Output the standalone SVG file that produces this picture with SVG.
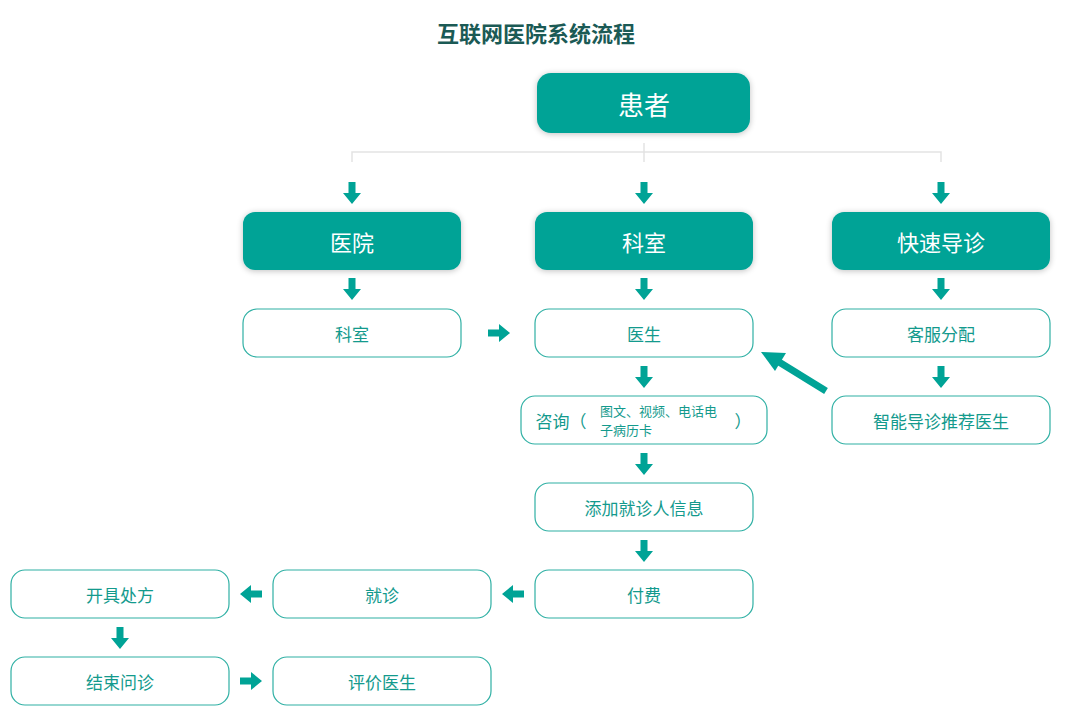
<svg xmlns="http://www.w3.org/2000/svg" xmlns:xlink="http://www.w3.org/1999/xlink" width="1067" height="717" viewBox="0 0 1067 717">
<style>
text{font-family:"Noto Sans CJK SC","Noto Sans",sans-serif;text-anchor:middle;dominant-baseline:central}
.f{fill:#00a396}
.ft{fill:#fff;font-size:22px}
.o{fill:#fff;stroke:#2fb0a4;stroke-width:1.2}
.ot{fill:#139a8d;font-size:17px}
.a{fill:#00a396}
</style>
<defs>
<filter id="sh" x="-10%" y="-20%" width="120%" height="140%"><feGaussianBlur in="SourceAlpha" stdDeviation="3"/><feOffset dy="1"/><feComponentTransfer><feFuncA type="linear" slope="0.25"/></feComponentTransfer><feMerge><feMergeNode/><feMergeNode in="SourceGraphic"/></feMerge></filter>
<path id="ar" d="M-3.5,0 H3.5 V11 H9 L0,22 L-9,11 H-3.5 Z"/>
</defs>
<text x="536" y="32" style="font-size:22px;font-weight:bold;fill:#1b5a55">互联网医院系统流程</text>
<g id="connectors">
<path d="M352,162 V152 H941 V162 M644,143 V162" fill="none" stroke="#e3e3e3" stroke-width="1.5"/>
<use href="#ar" class="a" transform="translate(352,182)"/>
<use href="#ar" class="a" transform="translate(644,182)"/>
<use href="#ar" class="a" transform="translate(941,182)"/>
<use href="#ar" class="a" transform="translate(352,278)"/>
<use href="#ar" class="a" transform="translate(644,278)"/>
<use href="#ar" class="a" transform="translate(941,278)"/>
<use href="#ar" class="a" transform="translate(644,366)"/>
<use href="#ar" class="a" transform="translate(941,366)"/>
<use href="#ar" class="a" transform="translate(644,453)"/>
<use href="#ar" class="a" transform="translate(644,540)"/>
<use href="#ar" class="a" transform="translate(120,627)"/>
<use href="#ar" class="a" transform="translate(488,333) rotate(-90)"/>
<use href="#ar" class="a" transform="translate(240,681) rotate(-90)"/>
<use href="#ar" class="a" transform="translate(524,594) rotate(90)"/>
<use href="#ar" class="a" transform="translate(262,594) rotate(90)"/>
<path d="M826,391 L779,362" stroke="#00a396" stroke-width="7"/>
<path d="M761,352 L786,353 L775,371 Z" fill="#00a396"/>
</g>
<g id="patient"><rect x="537" y="73" width="213" height="60" rx="14" class="f" filter="url(#sh)"/><text x="644" y="103" class="ft" style="font-size:26px">患者</text></g>
<g id="hospital"><rect x="243" y="212" width="218" height="58" rx="12" class="f" filter="url(#sh)"/><text x="352" y="241" class="ft">医院</text></g>
<g id="dept"><rect x="535" y="212" width="218" height="58" rx="12" class="f" filter="url(#sh)"/><text x="644" y="241" class="ft">科室</text></g>
<g id="fast"><rect x="832" y="212" width="218" height="58" rx="12" class="f" filter="url(#sh)"/><text x="941" y="241" class="ft">快速导诊</text></g>
<g id="dept2"><rect x="243" y="309" width="218" height="48" rx="14" class="o"/><text x="352" y="333" class="ot">科室</text></g>
<g id="doctor"><rect x="535" y="309" width="218" height="48" rx="14" class="o"/><text x="644" y="333" class="ot">医生</text></g>
<g id="service"><rect x="832" y="309" width="218" height="48" rx="14" class="o"/><text x="941" y="333" class="ot">客服分配</text></g>
<g id="consult"><rect x="521" y="396" width="246" height="48" rx="14" class="o"/><text x="561" y="420" class="ot">咨询（</text><text x="600" y="410" class="ot" style="font-size:13px;text-anchor:start">图文、视频、电话电</text><text x="600" y="429" class="ot" style="font-size:13px;text-anchor:start">子病历卡</text><text x="743" y="420" class="ot">）</text></g>
<g id="smart"><rect x="832" y="396" width="218" height="48" rx="14" class="o"/><text x="941" y="420" class="ot">智能导诊推荐医生</text></g>
<g id="addinfo"><rect x="535" y="483" width="218" height="48" rx="14" class="o"/><text x="644" y="507" class="ot">添加就诊人信息</text></g>
<g id="pay"><rect x="535" y="570" width="218" height="48" rx="14" class="o"/><text x="644" y="594" class="ot">付费</text></g>
<g id="visit"><rect x="273" y="570" width="218" height="48" rx="14" class="o"/><text x="382" y="594" class="ot">就诊</text></g>
<g id="rx"><rect x="11" y="570" width="218" height="48" rx="14" class="o"/><text x="120" y="594" class="ot">开具处方</text></g>
<g id="end"><rect x="11" y="657" width="218" height="48" rx="14" class="o"/><text x="120" y="681" class="ot">结束问诊</text></g>
<g id="rate"><rect x="273" y="657" width="218" height="48" rx="14" class="o"/><text x="382" y="681" class="ot">评价医生</text></g>
</svg>
